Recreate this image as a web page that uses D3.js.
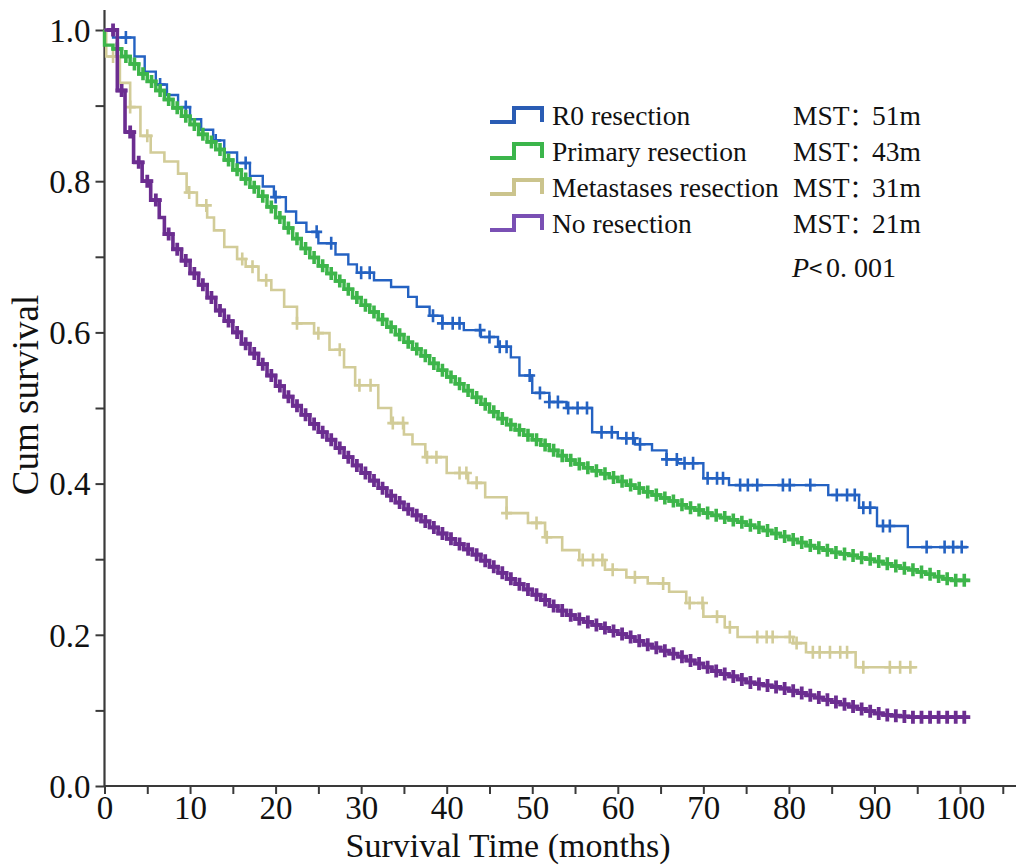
<!DOCTYPE html>
<html><head><meta charset="utf-8">
<script src="https://cdn.jsdelivr.net/npm/d3@7"></script>
<style>body{margin:0;background:#fff}svg{display:block}</style>
</head><body>
<svg id="c" width="1016" height="865"></svg>
<script>
// ---- data ----
const groups = ["R0 resection", "Primary resection", "Metastases resection", "No resection"];
const mstLabels = ["51m", "43m", "31m", "21m"];
const pLabel = "0. 001";
const xTicks = [0,5,10,15,20,25,30,35,40,45,50,55,60,65,70,75,80,85,90,95,100,105];
const yTicks = [0,0.1,0.2,0.3,0.4,0.5,0.6,0.7,0.8,0.9,1.0];
const endTimes = [101, 101, 95, 101];

// steps: [time of drop, survival after drop]
const r0Steps = [[1,0.99],[3.5,0.965],[4.7,0.945],[6,0.928],[7.3,0.914],[8.6,0.898],[10,0.882],[11.3,0.868],[12.7,0.854],[14,0.838],[15.5,0.824],[17,0.807],[18.5,0.793],[19.8,0.779],[21.2,0.76],[22.4,0.745],[23.6,0.733],[25,0.718],[27,0.703],[28.5,0.69],[29.5,0.679],[31.5,0.669],[33.5,0.66],[35.5,0.647],[36.5,0.634],[38,0.622],[39.5,0.612],[42,0.603],[44,0.594],[46,0.581],[47.5,0.567],[48.5,0.543],[50,0.52],[52,0.508],[54,0.5],[57,0.468],[60,0.46],[62,0.452],[64,0.444],[65.7,0.432],[67,0.427],[70,0.407],[73,0.398],[84.6,0.385],[88.2,0.368],[90.3,0.344],[93.9,0.316]];
const r0Censor = [2.5,6.5,9.5,13,16.5,20,24.8,26.5,30,31,38.4,39.5,40.7,41.5,43.9,45,46.2,47,49.7,50.9,52,53,54.2,55.3,56.4,58.1,59.3,61,61.8,62.6,65.7,66.9,67.8,68.8,70.5,71.6,72.3,74.3,75.2,76.3,79.3,80.1,82.5,85.6,86.8,87.7,88.7,89.5,91,91.8,96.1,98.2,99.2,100.2];

const primSteps = [[0,0.98],[1,0.975],[2,0.965],[3,0.955],[4,0.942],[5,0.932],[6,0.92],[7,0.908],[8,0.897],[9,0.886],[10,0.875],[11,0.862],[12,0.852],[13,0.842],[14,0.828],[15,0.815],[16,0.803],[17,0.792],[18,0.78],[19,0.766],[20,0.752],[21,0.738],[22,0.724],[23,0.711],[24,0.699],[25,0.688],[26,0.678],[27,0.668],[28,0.657],[29,0.646],[30,0.636],[31,0.627],[32,0.617],[33,0.607],[34,0.597],[35,0.587],[36,0.578],[37,0.569],[38,0.559],[39,0.55],[40,0.541],[41,0.532],[42,0.523],[43,0.514],[44,0.505],[45,0.495],[46,0.486],[47,0.478],[48,0.471],[49,0.464],[50,0.458],[51,0.451],[52,0.444],[53,0.437],[54,0.431],[55,0.426],[56,0.421],[57,0.417],[58,0.413],[59,0.408],[60,0.403],[61,0.398],[62,0.394],[63,0.389],[64,0.385],[65,0.381],[66,0.377],[67,0.372],[68,0.368],[69,0.365],[70,0.361],[71,0.358],[72,0.355],[73,0.352],[74,0.349],[75,0.345],[76,0.342],[77,0.338],[78,0.334],[79,0.33],[80,0.326],[81,0.322],[82,0.318],[83,0.315],[84,0.312],[85,0.309],[86,0.307],[87,0.305],[88,0.302],[89,0.3],[90,0.297],[91,0.294],[92,0.291],[93,0.288],[94,0.286],[95,0.283],[96,0.28],[97,0.277],[98,0.274],[99,0.272]];
const primCensor = [1.5,2.5,3.5,4.5,5.5,6.5,7.5,8.5,9.5,10.5,11.5,12.5,13.5,14.5,15.5,16.5,17.5,18.5,19.5,20.5,21.5,22.5,23.5,24.5,25.5,26.5,27.5,28.5,29.5,30.5,31.5,32.5,33.5,34.5,35.5,36.5,37.5,38.5,39.5,40.5,41.5,42.5,43.5,44.5,45.5,46.5,47.5,48.5,49.5,50.5,51.5,52.5,53.5,54.5,55.5,56.5,57.5,58.5,59.5,60.5,61.5,62.5,63.5,64.5,65.5,66.5,67.5,68.5,69.5,70.5,71.5,72.5,73.5,74.5,75.5,76.5,77.5,78.5,79.5,80.5,81.5,82.5,83.5,84.5,85.5,86.5,87.5,88.5,89.5,90.5,91.5,92.5,93.5,94.5,95.5,96.5,97.5,98.5,99.5,100.5];

const metaSteps = [[0.2,0.965],[1.8,0.93],[3,0.898],[4.2,0.86],[5.4,0.838],[7,0.826],[8.6,0.81],[9.6,0.785],[10.8,0.768],[12,0.752],[12.8,0.735],[14,0.713],[15.5,0.697],[16.5,0.687],[18,0.669],[19.5,0.656],[21,0.634],[22.5,0.612],[24.5,0.599],[26.3,0.577],[28,0.554],[29.3,0.53],[32,0.5],[33.5,0.48],[35,0.465],[36,0.452],[37.5,0.435],[40,0.414],[42.5,0.401],[44.5,0.382],[47,0.361],[49.5,0.348],[51.5,0.329],[53.5,0.312],[55.5,0.299],[58.5,0.286],[61,0.276],[63.5,0.268],[66,0.257],[68,0.242],[70,0.224],[72.5,0.21],[74,0.197],[80.5,0.189],[82,0.177],[87.8,0.157]];
const metaCensor = [1,3,5,9.9,11.9,16.1,17.3,18.9,22.5,25,27.5,29.8,31.1,33.7,34.9,37.7,38.8,41.5,42.3,43.5,47,50.5,51.7,55.9,57.1,58.2,59.4,62,65.3,68.4,69.9,71.6,73.1,76.3,77.4,78.1,80.1,80.9,82.8,83.6,84.8,86,86.8,88.7,91.8,93,94.2];

const noSteps = [[1.5,0.92],[2.4,0.865],[3.4,0.825],[4.4,0.8],[5.4,0.775],[6.4,0.752],[7,0.73],[8,0.71],[9,0.695],[10,0.678],[11,0.663],[12,0.646],[13,0.629],[14,0.615],[15,0.6],[16,0.585],[17,0.572],[18,0.558],[19,0.543],[20,0.529],[21,0.515],[22,0.503],[23,0.491],[24,0.479],[25,0.468],[26,0.458],[27,0.447],[28,0.435],[29,0.424],[30,0.414],[31,0.404],[32,0.394],[33,0.384],[34,0.375],[35,0.366],[36,0.358],[37,0.35],[38,0.342],[39,0.334],[40,0.327],[41,0.32],[42,0.313],[43,0.306],[44,0.298],[45,0.29],[46,0.282],[47,0.274],[48,0.267],[49,0.26],[50,0.253],[51,0.246],[52,0.238],[53,0.232],[54,0.226],[55,0.221],[56,0.217],[57,0.213],[58,0.209],[59,0.205],[60,0.201],[61,0.197],[62,0.192],[63,0.187],[64,0.183],[65,0.179],[66,0.175],[67,0.171],[68,0.166],[69,0.162],[70,0.157],[71,0.152],[72,0.148],[73,0.145],[74,0.141],[75,0.137],[76,0.135],[77,0.133],[78,0.131],[79,0.129],[80,0.126],[81,0.123],[82,0.12],[83,0.117],[84,0.114],[85,0.111],[86,0.108],[87,0.105],[88,0.102],[89,0.099],[90,0.096],[91,0.094],[92,0.093],[93,0.092],[94,0.091]];
const noCensor = [1,2,3,4,5,6,7.5,8.5,9.5,10.5,11.5,12.5,13.5,14.5,15.5,16.5,17.5,18.5,19.5,20.5,21.5,22.5,23.5,24.5,25.5,26.5,27.5,28.5,29.5,30.5,31.5,32.5,33.5,34.5,35.5,36.5,37.5,38.5,39.5,40.5,41.5,42.5,43.5,44.5,45.5,46.5,47.5,48.5,49.5,50.5,51.5,52.5,53.5,54.5,55.5,56.5,57.5,58.5,59.5,60.5,61.5,62.5,63.5,64.5,65.5,66.5,67.5,68.5,69.5,70.5,71.5,72.5,73.5,74.5,75.5,76.5,77.5,78.5,79.5,80.5,81.5,82.5,83.5,84.5,85.5,86.5,87.5,88.5,89.5,90.5,91.5,92.5,93.5,94.5,95.5,96.5,97.5,98.5,99.5,100.5];

const curveColors = ["#2462c2", "#3db54a", "#d2cc98", "#6b2d90"];
const legendColors = ["#2a5cb4", "#3bb54b", "#cbc48d", "#7a50b4"];
const lineWidths = [2.4, 3.4, 2.6, 3.6];
const markWidths = [2.6, 3.6, 2.6, 3.8];
const markHalfH = [6.5, 6.5, 6.5, 6.5];
const markHalfW = [5.5, 6, 5.5, 6];

// ---- drawing ----
const svg = d3.select("#c");
const x = d3.scaleLinear().domain([0, 100]).range([104.5, 960]);
const y = d3.scaleLinear().domain([0, 1]).range([786, 30]);
const serif = "'Liberation Serif','Times New Roman',serif";
const axisColor = "#3a3a3a";

// axes
const yAxis = svg.append("g").attr("transform", `translate(${x(0)},0)`)
  .call(d3.axisLeft(y).tickValues(yTicks).tickSize(9).tickPadding(5)
    .tickFormat(d => (Math.round(d * 10) % 2 === 0) ? d3.format(".1f")(d) : ""));
yAxis.select(".domain").remove();
yAxis.append("line").attr("x1", 0).attr("x2", 0).attr("y1", 10).attr("y2", y(0)).attr("stroke", axisColor).attr("stroke-width", 2.2);
yAxis.selectAll(".tick line").attr("stroke", axisColor).attr("stroke-width", 2);
yAxis.selectAll(".tick text").attr("font-family", serif).attr("font-size", 33).attr("fill", "#111").attr("dy", "0.34em");

const xAxis = svg.append("g").attr("transform", `translate(0,${y(0)})`)
  .call(d3.axisBottom(x).tickValues(xTicks).tickSize(8).tickPadding(1)
    .tickFormat(d => d % 10 === 0 && d <= 100 ? String(d) : ""));
xAxis.select(".domain").remove();
xAxis.append("line").attr("x1", x(0)).attr("x2", 1016).attr("y1", 0).attr("y2", 0).attr("stroke", axisColor).attr("stroke-width", 2.2);
xAxis.selectAll(".tick line").attr("stroke", axisColor).attr("stroke-width", 2);
xAxis.selectAll(".tick text").attr("font-family", serif).attr("font-size", 33).attr("fill", "#111").attr("dy", "0.72em");

// axis titles
svg.append("text").attr("x", 508).attr("y", 857).attr("text-anchor", "middle")
  .attr("font-family", serif).attr("font-size", 34).attr("fill", "#111").text("Survival Time (months)");
svg.append("text").attr("transform", "translate(38,395) rotate(-90)").attr("text-anchor", "middle")
  .attr("font-family", serif).attr("font-size", 37).attr("fill", "#111").text("Cum survival");

// curves
const stepsList = [r0Steps, primSteps, metaSteps, noSteps];
const censorList = [r0Censor, primCensor, metaCensor, noCensor];
const line = d3.line().x(d => x(d[0])).y(d => y(d[1])).curve(d3.curveStepAfter);
function survAt(steps, t) {
  let s = 1;
  for (const [tt, v] of steps) { if (tt <= t) s = v; else break; }
  return s;
}
const order = [0, 2, 1, 3];
order.forEach(i => {
  const steps = stepsList[i];
  const pts = [[0, 1], ...steps, [endTimes[i], steps[steps.length - 1][1]]];
  const g = svg.append("g");
  g.append("path").attr("d", line(pts)).attr("fill", "none")
    .attr("stroke", curveColors[i]).attr("stroke-width", lineWidths[i]);
  const hv = markHalfH[i], hh = markHalfW[i];
  g.selectAll("path.c").data(censorList[i]).join("path").attr("class", "c")
    .attr("d", t => {
      const cx = x(t), cy = y(survAt(steps, t));
      return `M${cx},${cy - hv}V${cy + hv}M${cx - hh},${cy}H${cx + hh}`;
    })
    .attr("stroke", curveColors[i]).attr("stroke-width", markWidths[i]).attr("fill", "none");
});

// legend
const lg = svg.append("g");
groups.forEach((name, i) => {
  const by = 125 + i * 36;
  lg.append("path").attr("d", `M490,${by - 3}H514V${by - 17}H542V${by - 3}`)
    .attr("fill", "none").attr("stroke", legendColors[i]).attr("stroke-width", 4);
  lg.append("text").attr("x", 552).attr("y", by).attr("font-family", serif).attr("font-size", 27.5)
    .attr("fill", "#111").text(name);
  const t = lg.append("text").attr("y", by).attr("font-family", serif).attr("font-size", 27.5).attr("fill", "#111");
  t.append("tspan").attr("x", 793).text("MST");
  t.append("tspan").attr("font-family", "'Noto Sans CJK SC',sans-serif").attr("font-size", 24).text("：");
  t.append("tspan").attr("x", 872).text(mstLabels[i]);
});
const pt = lg.append("text").attr("y", 277).attr("font-family", serif).attr("font-size", 28).attr("fill", "#111");
pt.append("tspan").attr("x", 792).attr("font-style", "italic").text("P");
pt.append("tspan").attr("font-family", "'Noto Sans CJK SC',sans-serif").attr("font-size", 24).text("<");
pt.append("tspan").attr("x", 826).text(pLabel);
</script>
</body></html>
